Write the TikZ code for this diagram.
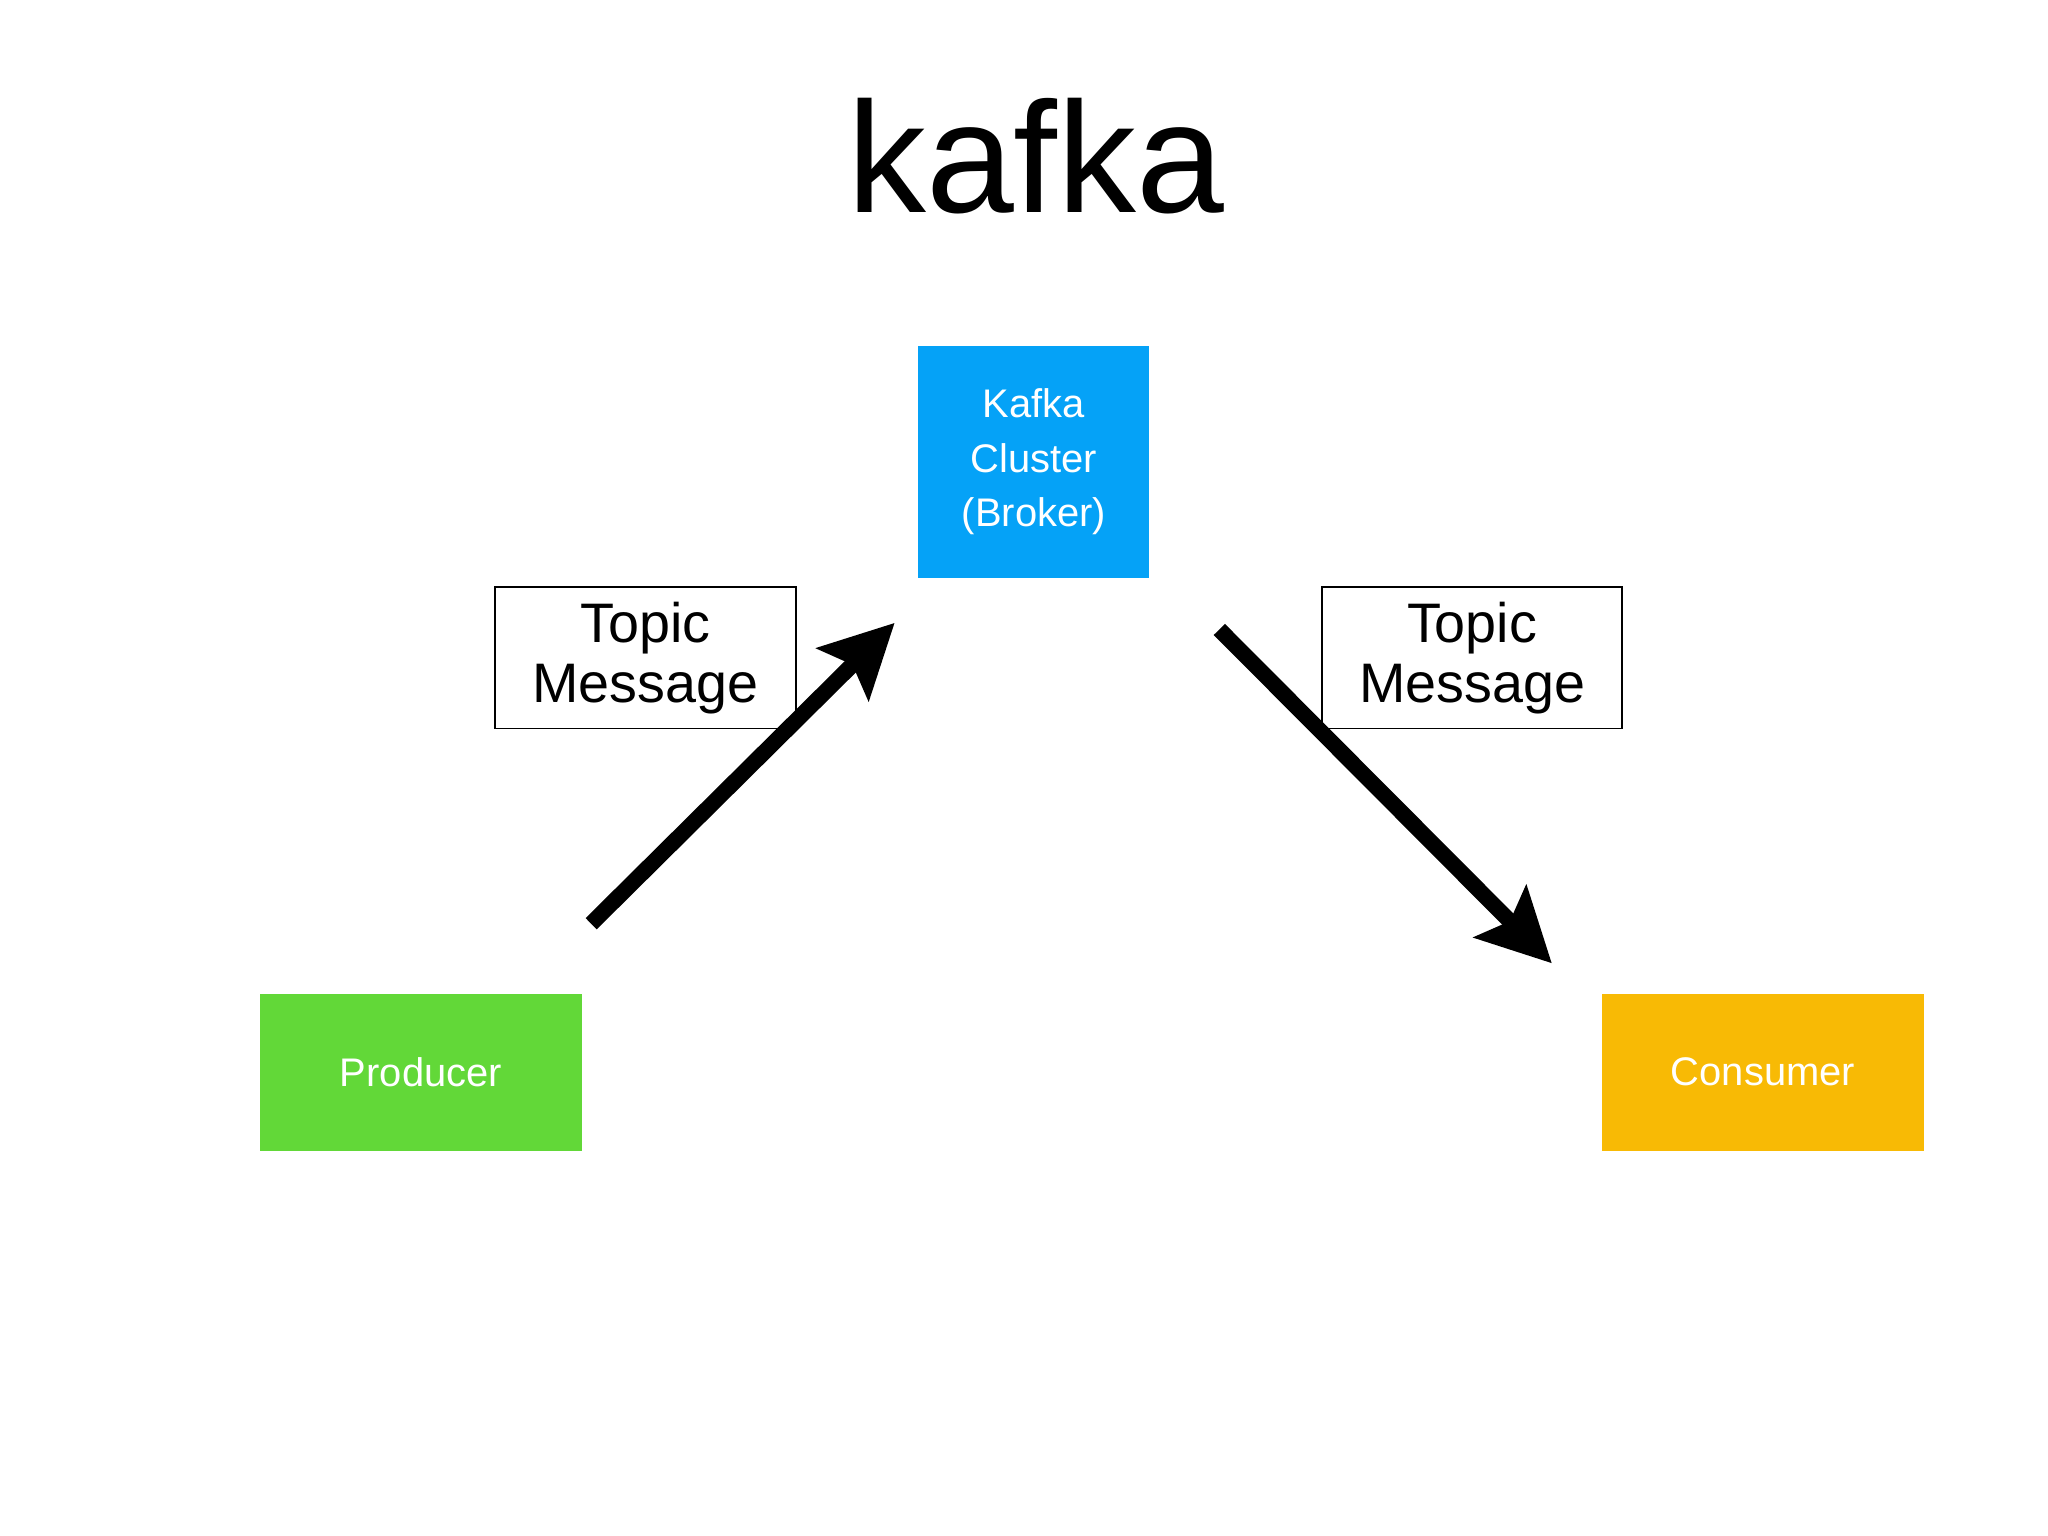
\documentclass[tikz,border=0pt]{standalone}
\usepackage{fontspec}
\setmainfont{Liberation Sans}
\usetikzlibrary{arrows.meta}
\definecolor{kblue}{HTML}{05A2F7}
\definecolor{kgreen}{HTML}{62D838}
\definecolor{korange}{HTML}{F8BA05}
\begin{document}
\begin{tikzpicture}[x=0.01cm,y=-0.01cm,
  box/.style={draw=none,text=white,align=center,font=\fontsize{8.6pt}{11.7pt}\selectfont,inner sep=0pt},
  lab/.style={draw=black,line width=0.4pt,align=center,inner sep=0pt,font=\fontsize{12pt}{13pt}\selectfont},
  arr/.style={line width=3.4pt,-{Stealth[length=0.55cm,width=0.55cm,inset=0.1cm]}}]
\useasboundingbox (0,0) rectangle (1552,1164);
\node[font=\fontsize{34pt}{40pt}\selectfont] (title) at (785,118) {kafka};
\node[box,fill=kblue,minimum width=1.75cm,minimum height=1.76cm] (cluster) at (783.5,350) {Kafka\\Cluster\\(Broker)};
\node[box,fill=kgreen,minimum width=2.44cm,minimum height=1.19cm] (prod) at (319,812.5) {Producer};
\node[box,fill=korange,minimum width=2.44cm,minimum height=1.19cm] (cons) at (1336,812.5) {Consumer};
\node[lab,minimum width=2.28cm,minimum height=1.07cm] (l1) at (489,498.5) {Topic\\Message};
\node[lab,minimum width=2.27cm,minimum height=1.07cm] (l2) at (1115.5,498.5) {Topic\\Message};
\coordinate (a1s) at (448,700);
\coordinate (a1e) at (678,472);
\coordinate (a2s) at (924,477);
\coordinate (a2e) at (1176,730);
\draw[arr] (a1s) -- (a1e);
\draw[arr] (a2s) -- (a2e);
\end{tikzpicture}
\end{document}
